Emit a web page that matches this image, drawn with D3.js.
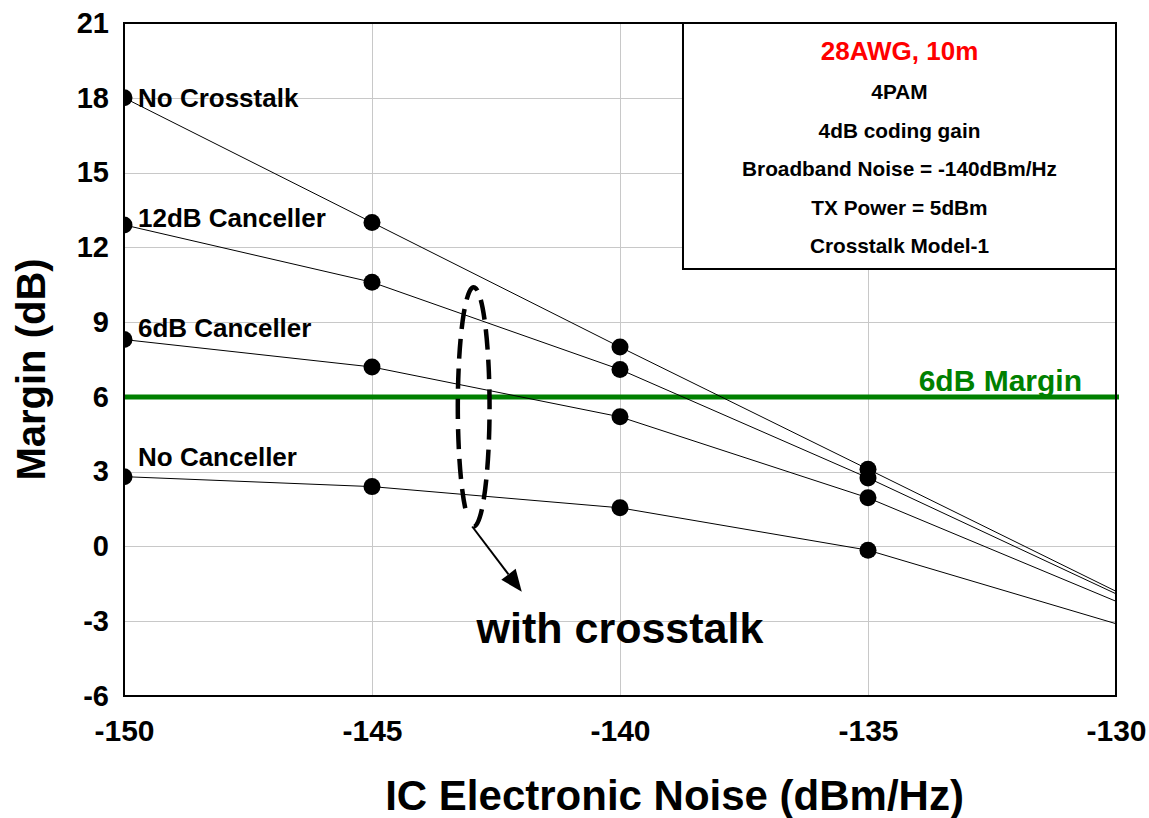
<!DOCTYPE html>
<html>
<head>
<meta charset="utf-8">
<script src="https://cdn.jsdelivr.net/npm/d3@7"></script>
<style>
  body { margin: 0; background: #fff; }
  text { font-family: "Liberation Sans", Arial, Helvetica, sans-serif; font-weight: bold; }
</style>
</head>
<body>
<svg id="chart" width="1149" height="818"></svg>
<script>
// IC electronic noise level (dBm/Hz) at which each margin was evaluated
const noiseLevels = [-150, -145, -140, -135, -130];

// Margin (dB) for each receiver configuration
const noCrosstalk   = [18.0, 13.0, 8.0, 3.1, -1.8];
const canceller12dB = [12.9, 10.6, 7.1, 2.75, -1.9];
const canceller6dB  = [8.3, 7.2, 5.2, 1.95, -2.2];
const noCanceller   = [2.8, 2.4, 1.55, -0.15, -3.1];

const seriesNames = ["No Crosstalk", "12dB Canceller", "6dB Canceller", "No Canceller"];

const xTicks = [-150, -145, -140, -135, -130];
const yTicks = [-6, -3, 0, 3, 6, 9, 12, 15, 18, 21];

const requiredMargin = 6;
const requiredMarginLabel = "6dB Margin";

const infoTitle = "28AWG, 10m";
const infoLines = ["4PAM", "4dB coding gain", "Broadband Noise = -140dBm/Hz", "TX Power = 5dBm", "Crosstalk Model-1"];

const xTitle = "IC Electronic Noise (dBm/Hz)";
const yTitle = "Margin (dB)";
const groupNote = "with crosstalk";

// ---- layout ----
const W = 1149, H = 818;
const M = { left: 124, top: 23, right: 33, bottom: 122 };
const pw = W - M.left - M.right;
const ph = H - M.top - M.bottom;

const svg = d3.select("#chart");
const x = d3.scaleLinear().domain([-150, -130]).range([M.left, M.left + pw]);
const y = d3.scaleLinear().domain([-6, 21]).range([M.top + ph, M.top]);

const series = [noCrosstalk, canceller12dB, canceller6dB, noCanceller].map((vals, i) => ({
  name: seriesNames[i],
  points: vals.map((v, j) => ({ x: noiseLevels[j], y: v }))
}));

// clip region for the plotting area
svg.append("defs").append("clipPath").attr("id", "plotClip")
  .attr("clipPathUnits", "userSpaceOnUse")
  .append("rect").attr("x", M.left).attr("y", M.top).attr("width", pw).attr("height", ph);

// grid
const grid = svg.append("g").attr("stroke", "#c8c8c8").attr("stroke-width", 1);
grid.selectAll("line.h").data(yTicks.filter(t => t > -6 && t < 21)).join("line")
  .attr("x1", M.left).attr("x2", M.left + pw)
  .attr("y1", d => Math.round(y(d)) + 0.5).attr("y2", d => Math.round(y(d)) + 0.5);
grid.selectAll("line.v").data(xTicks.filter(t => t > -150 && t < -130)).join("line")
  .attr("y1", M.top).attr("y2", M.top + ph)
  .attr("x1", d => Math.round(x(d)) + 0.5).attr("x2", d => Math.round(x(d)) + 0.5);

// axes (labels only, no tick marks); plain hyphen for negatives
const fmt = d => String(d);
const xAxis = d3.axisBottom(x).tickValues(xTicks).tickSize(0).tickPadding(24).tickFormat(fmt);
const gx = svg.append("g").attr("transform", `translate(0,${M.top + ph})`).call(xAxis);
gx.select(".domain").remove();
gx.selectAll("text").attr("font-size", 30).attr("fill", "#000")
  .attr("font-family", '"Liberation Sans", Arial, sans-serif').attr("font-weight", "bold");

const yAxis = d3.axisLeft(y).tickValues(yTicks).tickSize(0).tickPadding(15).tickFormat(fmt);
const gy = svg.append("g").attr("transform", `translate(${M.left},0)`).call(yAxis);
gy.select(".domain").remove();
gy.selectAll("text").attr("font-size", 29).attr("fill", "#000")
  .attr("font-family", '"Liberation Sans", Arial, sans-serif').attr("font-weight", "bold");

// required margin line
svg.append("line")
  .attr("x1", M.left).attr("x2", M.left + pw + 3)
  .attr("y1", y(requiredMargin)).attr("y2", y(requiredMargin))
  .attr("stroke", "#008000").attr("stroke-width", 5);
svg.append("text")
  .attr("x", x(-130) - 34).attr("y", y(requiredMargin) - 6)
  .attr("text-anchor", "end").attr("font-size", 30).attr("fill", "#008000")
  .text(requiredMarginLabel);

// series lines and markers, clipped to the plotting area
const line = d3.line().x(d => x(d.x)).y(d => y(d.y));
const plot = svg.append("g").attr("clip-path", "url(#plotClip)");
plot.selectAll("path.series").data(series).join("path")
  .attr("class", "series")
  .attr("fill", "none").attr("stroke", "#000").attr("stroke-width", 1)
  .attr("d", d => line(d.points));
plot.selectAll("g.markers").data(series).join("g")
  .attr("class", "markers")
  .selectAll("circle").data(d => d.points.filter(p => p.x < -130)).join("circle")
  .attr("cx", d => x(d.x)).attr("cy", d => y(d.y)).attr("r", 8.5).attr("fill", "#000");

// series labels next to their first point
const labelDy = [9, 2, -3, -11];
svg.selectAll("text.slabel").data(series).join("text")
  .attr("class", "slabel")
  .attr("x", d => x(d.points[0].x) + 14)
  .attr("y", (d, i) => y(d.points[0].y) + labelDy[i])
  .attr("font-size", 26).attr("fill", "#000")
  .text(d => d.name);

// frame
svg.append("rect").attr("x", M.left).attr("y", M.top).attr("width", pw).attr("height", ph)
  .attr("fill", "none").attr("stroke", "#000").attr("stroke-width", 2);

// info box in the upper right corner
const box = { x0: x(-138.73), y0: y(21) };
const boxW = x(-130) - box.x0, boxH = 246;
const info = svg.append("g");
info.append("rect").attr("x", box.x0).attr("y", box.y0).attr("width", boxW).attr("height", boxH)
  .attr("fill", "#fff").attr("stroke", "#000").attr("stroke-width", 2);
const cxInfo = box.x0 + boxW / 2;
info.append("text").attr("x", cxInfo).attr("y", box.y0 + 37)
  .attr("text-anchor", "middle").attr("font-size", 26).attr("fill", "#ff0000").text(infoTitle);
info.selectAll("text.line").data(infoLines).join("text")
  .attr("class", "line")
  .attr("x", cxInfo).attr("y", (d, i) => box.y0 + 76 + i * 38.6)
  .attr("text-anchor", "middle").attr("font-size", 20.8).attr("fill", "#000").text(d => d);

// dashed ellipse grouping the crosstalk curves, with an arrow to its note
const ell = { cx: -142.95, cy: 5.6, rx: 0.32, ry: 4.8 };
const ecx = x(ell.cx), ecy = y(ell.cy);
const erx = x(ell.cx + ell.rx) - ecx, ery = y(ell.cy) - y(ell.cy + ell.ry);
const a1 = 122 * Math.PI / 180;
const start = [ecx, ecy + ery];
const end = [ecx + erx * Math.cos(a1), ecy + ery * Math.sin(a1)];
svg.append("path")
  .attr("d", `M${start[0]},${start[1]} A${erx},${ery} 0 1 0 ${end[0]},${end[1]}`)
  .attr("fill", "none").attr("stroke", "#000").attr("stroke-width", 4.5)
  .attr("stroke-dasharray", "20,10");

const arrowFrom = [x(-142.98), y(0.8)];
const arrowTo = [x(-141.98), y(-1.82)];
const ang = Math.atan2(arrowTo[1] - arrowFrom[1], arrowTo[0] - arrowFrom[0]);
const headLen = 22, headHalf = 9;
const base = [arrowTo[0] - headLen * Math.cos(ang), arrowTo[1] - headLen * Math.sin(ang)];
svg.append("line")
  .attr("x1", arrowFrom[0]).attr("y1", arrowFrom[1]).attr("x2", base[0]).attr("y2", base[1])
  .attr("stroke", "#000").attr("stroke-width", 2);
svg.append("path")
  .attr("d", `M${arrowTo[0]},${arrowTo[1]}
    L${base[0] + headHalf * Math.sin(ang)},${base[1] - headHalf * Math.cos(ang)}
    L${base[0] - headHalf * Math.sin(ang)},${base[1] + headHalf * Math.cos(ang)}Z`)
  .attr("fill", "#000");

svg.append("text").attr("x", x(-140)).attr("y", y(-3) + 22)
  .attr("text-anchor", "middle").attr("font-size", 43).attr("fill", "#000").text(groupNote);

// axis titles
svg.append("text").attr("x", x(-138.9)).attr("y", 810)
  .attr("text-anchor", "middle").attr("font-size", 42).attr("fill", "#000").text(xTitle);
svg.append("text").attr("transform", `translate(45,${y(7.1)}) rotate(-90)`)
  .attr("text-anchor", "middle").attr("font-size", 40).attr("fill", "#000").text(yTitle);
</script>
</body>
</html>
